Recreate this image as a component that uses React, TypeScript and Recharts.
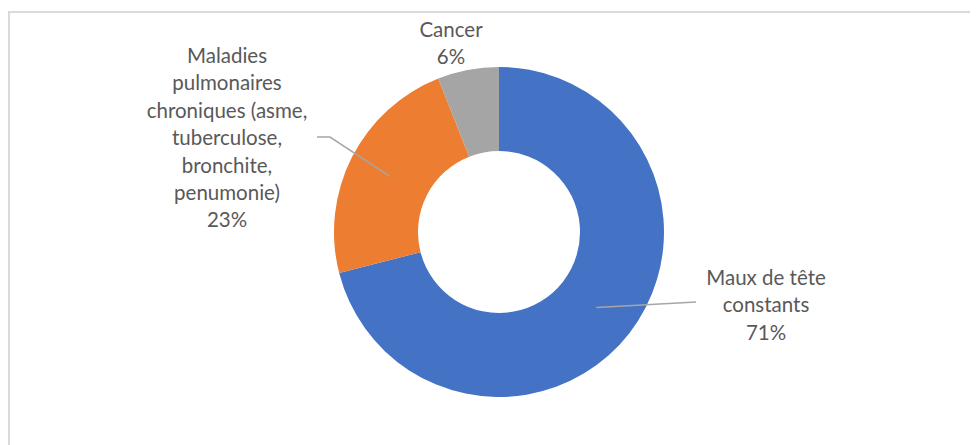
import { PieChart, Pie, Cell } from 'recharts'

const categories = [
    'Maux de tête constants',
    'Maladies pulmonaires chroniques (asme, tuberculose, bronchite, penumonie)',
    'Cancer',
]
const values = [71, 23, 6]
const colors = ['#4472c4', '#ed7d31', '#a5a5a5']

// label text lines (as wrapped in the original)
const labelLines = [
    ['Maux de tête', 'constants'],
    ['Maladies', 'pulmonaires', 'chroniques (asme,', 'tuberculose,', 'bronchite,', 'penumonie)'],
    ['Cancer'],
]

const data = categories.map((name, i) => ({ name, value: values[i] }))

// where each label sits, relative to the pie centre; elbow = leader bend point
const labelLayout = [
    { dx: 267, dy: 53, leader: true, elbow: [197, 70], end: [197, 70] },
    { dx: -272, dy: -169, leader: true, elbow: [-169, -95], end: [-182, -95] },
    { dx: -48, dy: -195, leader: false, elbow: [0, 0], end: [0, 0] },
]

const RADIAN = Math.PI / 180
const textColor = '#595959'
const lineHeight = 27.4

const renderLabel = (props: any) => {
    const { cx, cy, midAngle, innerRadius, outerRadius, percent, index } = props
    const layout = labelLayout[index]
    const lines = [...labelLines[index], `${Math.round(percent * 100)}%`]
    const r = (innerRadius + outerRadius) / 2
    const sx = cx + r * Math.cos(-midAngle * RADIAN)
    const sy = cy + r * Math.sin(-midAngle * RADIAN)
    const tx = cx + layout.dx
    const ty = cy + layout.dy
    return (
        <g>
            {layout.leader && (
                <polyline
                    points={`${sx},${sy} ${cx + layout.elbow[0]},${cy + layout.elbow[1]} ${cx + layout.end[0]},${cy + layout.end[1]}`}
                    fill="none" stroke="#a6a6a6" strokeWidth={1.5}
                />
            )}
            <text x={tx} y={ty} textAnchor="middle" fill={textColor}
                style={{ fontFamily: 'Lato, sans-serif', fontSize: 20.5 }}>
                {lines.map((line, i) => (
                    <tspan key={i} x={tx} dy={i === 0 ? 0 : lineHeight}>{line}</tspan>
                ))}
            </text>
        </g>
    )
}

const App = () => {
    return (
        <div style={{ position: 'relative', width: 970, height: 437 }}>
            <div style={{
                position: 'absolute', left: 0, top: 3, width: 968, height: 432,
                borderTop: '2px solid #d9d9d9', borderLeft: '2px solid #d9d9d9',
            }} />
            <div style={{ position: 'absolute', left: 0, top: 0 }}>
                <PieChart width={970} height={437} margin={{ top: 0, right: 0, bottom: 0, left: 0 }}>
                    <Pie
                        data={data}
                        dataKey="value" nameKey="name"
                        cx={491} cy={224}
                        innerRadius={81} outerRadius={165}
                        startAngle={90} endAngle={-270}
                        stroke="none"
                        label={renderLabel}
                        labelLine={false}
                        isAnimationActive={false}
                    >
                        {data.map((entry, index) => (
                            <Cell key={`cell-${index}`} fill={colors[index]} />
                        ))}
                    </Pie>
                </PieChart>
            </div>
        </div>
    )
}

export default App
